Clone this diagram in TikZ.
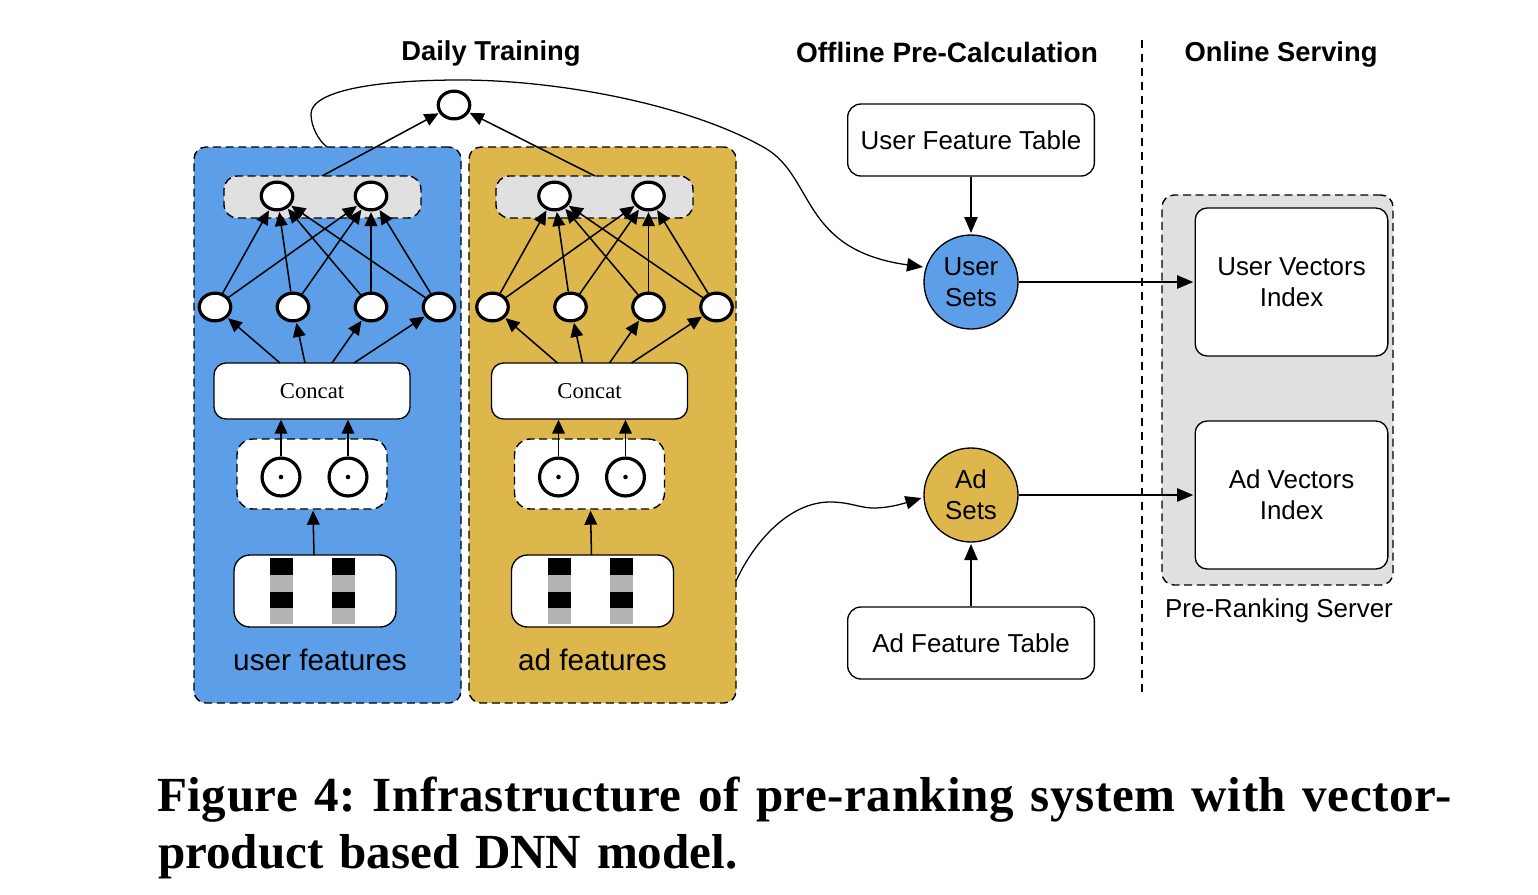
\documentclass[tikz,border=0pt]{standalone}
\usepackage{fontspec}
\setmainfont{Liberation Sans}
\newfontfamily\capfont{Liberation Serif}
\newfontfamily\capa{Liberation Serif}[LetterSpace=1.1]
\usetikzlibrary{arrows.meta,shapes.geometric}
\definecolor{userblue}{HTML}{5C9EE8}
\definecolor{adyellow}{HTML}{DDB74C}
\definecolor{panelgray}{HTML}{E0E0E0}
\definecolor{bargray}{HTML}{B4B4B4}
\tikzset{
  x=0.75pt,y=-0.75pt,
  conn/.style={line width=1.15pt,-{Triangle[length=10.5pt,width=9.5pt]},shorten >=0.5pt},
  thin conn/.style={line width=0.95pt,-{Triangle[length=12pt,width=10pt]},shorten >=1pt},
  neuron/.style={draw,fill=white,line width=2.4pt,ellipse,minimum width=23.6pt,minimum height=20.8pt,inner sep=0pt},
  ring/.style={draw,fill=white,line width=2.4pt,circle,minimum size=28.4pt,inner sep=0pt},
  panelbox/.style={draw,line width=1.05pt,rounded corners=9pt,dash pattern=on 6pt off 3.5pt,outer sep=0pt},
  tablebox/.style={draw,fill=white,line width=1pt,rounded corners=10pt,align=center,font=\fontsize{19.45}{23}\selectfont},
  head/.style={font=\fontsize{20.5}{24}\selectfont\bfseries,inner sep=0pt},
  setnode/.style={draw,line width=1pt,circle,minimum size=70.5pt,inner sep=0pt,align=center,font=\fontsize{19.45}{23}\selectfont},
  plain label/.style={inner sep=0pt,font=\fontsize{22.3}{25}\selectfont},
}
\newcommand{\dnnpanel}[7]{% prefix, dx, colour, label, panel x, gray x, label x
  \node[panelbox,fill=#3,minimum width=200.25pt,minimum height=417pt,anchor=north west,inner sep=0pt] (#1panel) at (#5,147) {};
  \node[panelbox,fill=panelgray,minimum width=147.75pt,minimum height=31.5pt,anchor=north west,inner sep=0pt,rounded corners=10pt] (#1gray) at (#6,176) {};
  \node[plain label] (#1label) at (#7,659.5) {#4};
  \begin{scope}[shift={(#2,0)}]
    \node[neuron] (#1t1) at (277,196) {};
    \node[neuron] (#1t2) at (371,196) {};
    \node[neuron] (#1m1) at (215,307) {};
    \node[neuron] (#1m2) at (293,307) {};
    \node[neuron] (#1m3) at (371,307) {};
    \node[neuron] (#1m4) at (439,307) {};
    \node[draw,fill=white,line width=1pt,rounded corners=9pt,minimum width=147pt,minimum height=42pt,anchor=north west,inner sep=0pt,outer sep=0pt,font=\capfont\fontsize{17}{20}\selectfont] (#1concat) at (214,363) {Concat};
    \node[panelbox,fill=white,minimum width=112.5pt,minimum height=52.5pt,anchor=north west,inner sep=0pt,rounded corners=12pt] (#1dots) at (237,439) {};
    \node[ring] (#1r1) at (281,477) {};
    \node[ring] (#1r2) at (348,477) {};
    \fill (#1r1.center) circle (1.7pt);
    \fill (#1r2.center) circle (1.7pt);
    \node[draw,fill=white,line width=1pt,rounded corners=12pt,minimum width=121.5pt,minimum height=54pt,anchor=north west,inner sep=0pt,outer sep=0pt] (#1feat) at (234,555) {};
    \foreach \bx in {270,332}{
      \fill[black] (\bx,558) rectangle ++(23,17);
      \fill[bargray] (\bx,575) rectangle ++(23,17);
      \fill[black] (\bx,592) rectangle ++(23,16);
      \fill[bargray] (\bx,608) rectangle ++(23,16);
    }
    \foreach \a/\b in {m1/t1,m1/t2,m2/t1,m2/t2,m3/t1,m3/t2,m4/t1,m4/t2}
      \draw[conn] (#1\a) -- (#1\b);
    \coordinate (#1c1) at (280,363);
    \coordinate (#1c2) at (305,363);
    \coordinate (#1c3) at (332,363);
    \coordinate (#1c4) at (354,363);
    \draw[conn] (#1c1) -- (#1m1);
    \draw[conn] (#1c2) -- (#1m2);
    \draw[conn] (#1c3) -- (#1m3);
    \draw[conn] (#1c4) -- (#1m4);
    \draw[conn] (#1r1.north) -- (#1r1.north |- #1concat.south);
    \draw[conn] (#1r2.north) -- (#1r2.north |- #1concat.south);
    \coordinate (#1fa) at (314,555);
    \coordinate (#1fb) at (313,510);
    \draw[conn] (#1fa) -- (#1fb);
  \end{scope}
}
\begin{document}
\begin{tikzpicture}
\useasboundingbox (0,0) rectangle (1538,894);
\dnnpanel{u}{0}{userblue}{user features}{194}{224}{320}
\dnnpanel{a}{277.5}{adyellow}{ad features}{469}{496}{592.5}
% output
\node[neuron] (out) at (454,105) {};
\coordinate (ug) at (322,176);
\coordinate (ag) at (595,176);
\draw[conn] (ug) -- (out);
\draw[conn] (ag) -- (out);
% headings
\node[head] (h1) at (491,53) {Daily Training};
\node[head,font=\fontsize{21}{24}\selectfont\bfseries] (h2) at (947,52.5) {Offline Pre-Calculation};
\node[head] (h3) at (1281,54) {Online Serving};
% tables
\node[tablebox,minimum width=185pt,minimum height=54pt,inner sep=0pt] (uft) at (971,140) {User Feature Table};
\node[tablebox,minimum width=185pt,minimum height=54pt,inner sep=0pt] (aft) at (971,643) {Ad Feature Table};
\node[setnode,fill=userblue] (us) at (971,282) {User\\Sets};
\node[setnode,fill=adyellow] (as) at (971,495) {Ad\\Sets};
% server
\node[panelbox,fill=panelgray,minimum width=173.25pt,minimum height=292.5pt,anchor=north west,inner sep=0pt] (srv) at (1162,195) {};
\node[tablebox,minimum width=144.5pt,minimum height=111pt,inner sep=0pt,rounded corners=9pt] (uvi) at (1291.5,282) {User Vectors\\Index};
\node[tablebox,minimum width=144.5pt,minimum height=111pt,inner sep=0pt,rounded corners=9pt] (avi) at (1291.5,495) {Ad Vectors\\Index};
\node[inner sep=0pt,font=\fontsize{19.45}{23}\selectfont] (srvlab) at (1279,611) {Pre-Ranking Server};
% divider
\coordinate (d1) at (1142,40);
\coordinate (d2) at (1142,692);
\draw[line width=0.95pt,dash pattern=on 6pt off 4.5pt] (d1) -- (d2);
% connectors
\draw[thin conn] (uft) -- (us);
\draw[thin conn] (aft) -- (as);
\draw[thin conn] (us) -- (uvi);
\draw[thin conn] (as) -- (avi);
\coordinate (cs) at (327,147);
\draw[thin conn,shorten >=0pt] (cs) .. controls (318,140) and (311,126) .. (311,114)
  .. controls (311,92) and (370,80) .. (460,80)
  .. controls (560,80) and (690,105) .. (765,148)
  .. controls (815,177) and (800,250) .. (923,267);
\coordinate (ds) at (736,581);
\draw[thin conn,shorten >=0pt] (ds) .. controls (755,540) and (790,502) .. (830,502)
  .. controls (850,502) and (860,508) .. (873,508)
  .. controls (890,508) and (905,503) .. (921.5,498);
% caption
\node[anchor=west,inner sep=0pt,font=\capa\fontsize{36.8}{42}\selectfont\bfseries] (cap1) at (157,799.5) {\frenchspacing\spaceskip=12.5pt Figure 4: Infrastructure of pre-ranking system with vector-};
\node[anchor=west,inner sep=0pt,font=\capfont\fontsize{36.8}{42}\selectfont\bfseries] (cap2) at (158,857) {\frenchspacing\spaceskip=11.8pt product based DNN model.};
\end{tikzpicture}
\end{document}
